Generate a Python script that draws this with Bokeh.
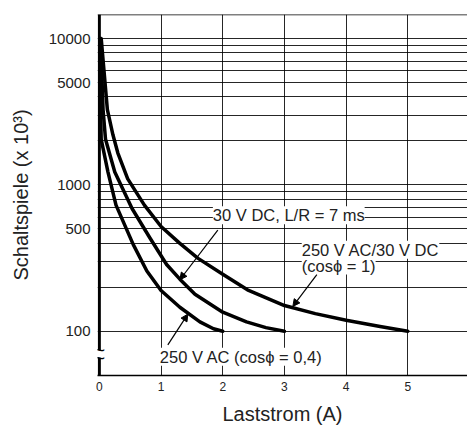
from bokeh.plotting import figure
from bokeh.models import (Range1d, FixedTicker, Label, Arrow, NormalHead, Span,
                          CustomJSTickFormatter)
from bokeh.core.properties import value
from bokeh.embed import file_html
from bokeh.resources import INLINE

# --- data ---
# 250 V AC (cos phi = 0,4)
x_ac04 = [0.01, 0.02, 0.03, 0.14, 0.27, 0.55, 0.77, 1.0, 1.305, 1.63, 1.85, 2.0]
y_ac04 = [10000, 3300, 2050, 1224, 728, 391, 258, 190, 146, 116, 104, 100]
# 30 V DC, L/R = 7 ms
x_dc7 = [0.02, 0.06, 0.1, 0.25, 0.53, 0.82, 1.09, 1.305, 1.55, 2.0, 2.385, 2.7, 3.0]
y_dc7 = [10000, 3270, 2050, 1224, 690, 434, 286, 227, 179, 135, 116, 106, 100]
# 250 V AC / 30 V DC (cos phi = 1)
x_ac1 = [0.03, 0.13, 0.22, 0.30, 0.46, 0.73, 1.0, 1.3, 1.6, 2.0, 2.4, 3.0, 3.5, 4.0, 4.55, 5.0]
y_ac1 = [10000, 3270, 2200, 1650, 1100, 728, 520, 400, 315, 245, 192, 150, 132, 119, 108, 100]

x_ticks = [0, 1, 2, 3, 4, 5]
x_grid = [1, 2, 3, 4, 5]
y_ticks = [100, 500, 1000, 5000, 10000]
y_grid = [100, 200, 300, 400, 500, 600, 700, 800, 900,
          1000, 2000, 3000, 4000, 5000, 6000, 7000, 8000, 9000, 10000]

X0, X1 = -0.03, 5.967
Y0, Y1 = 49.9, 14590
BREAK_LO, BREAK_HI = 66, 74.6

FONT = "Liberation Sans"

p = figure(width=467, height=427, x_range=Range1d(X0, X1), y_range=Range1d(Y0, Y1),
           y_axis_type="log", output_backend="svg", toolbar_location=None,
           min_border_left=97, min_border_right=0, min_border_top=14, min_border_bottom=48)
p.outline_line_color = None
p.background_fill_color = "white"

# grids
p.xgrid.ticker = FixedTicker(ticks=x_grid)
p.ygrid.ticker = FixedTicker(ticks=y_grid)
for g in (p.xgrid, p.ygrid):
    g.grid_line_color = "black"
    g.grid_line_width = 1
    g.grid_line_alpha = 0.85

# axes
p.xaxis.ticker = FixedTicker(ticks=x_ticks)
p.yaxis.ticker = FixedTicker(ticks=y_ticks)
p.yaxis.formatter = CustomJSTickFormatter(code="return tick.toFixed(0);")
for ax in (p.xaxis, p.yaxis):
    ax.major_tick_in = 0
    ax.major_tick_out = 0
    ax.minor_tick_in = 0
    ax.minor_tick_out = 0
    ax.major_label_text_font = FONT
    ax.axis_label_text_font = FONT
    ax.axis_label_text_font_style = "normal"
    ax.axis_label_text_font_size = "20px"
    ax.axis_label_text_color = "#222222"
    ax.major_label_text_color = "#222222"
p.yaxis.axis_line_color = None
p.xaxis.axis_line_color = "black"
p.xaxis.axis_line_width = 1.5
p.yaxis.major_label_text_font_size = "15px"
p.xaxis.major_label_text_font_size = "12px"
p.yaxis.major_label_standoff = 7
p.xaxis.major_label_standoff = 6
p.yaxis.axis_label = "Schaltspiele (x 10³)"
p.xaxis.axis_label = "Laststrom (A)"
p.yaxis.axis_label_standoff = 14
p.xaxis.axis_label_standoff = 9

# top frame line
p.add_layout(Span(location=Y1, dimension="width", line_color="black", line_width=1.5))

# left axis line with break
p.segment(x0=[0, 0], y0=[Y0, BREAK_HI], x1=[0, 0], y1=[BREAK_LO, Y1],
          line_color="black", line_width=3)
p.text(x=[0, 0], y=[BREAK_LO, BREAK_HI], text=["~", "~"], text_align="center",
       text_baseline="middle", text_font_size="20px", text_font=value(FONT),
       text_color="black")

# curves
for xs, ys in ((x_ac04, y_ac04), (x_dc7, y_dc7), (x_ac1, y_ac1)):
    p.line(xs, ys, line_color="black", line_width=3.5, line_join="round", line_cap="round")

# annotations
labels = [
    (1.84, 620, "30 V DC, L/R = 7 ms"),
    (3.28, 360, "250 V AC/30 V DC"),
    (3.28, 281, "(cosϕ = 1)"),
    (0.98, 67, "250 V AC (cosϕ = 0,4)"),
]
for lx, ly, txt in labels:
    p.add_layout(Label(x=lx, y=ly, text=txt, text_baseline="middle", text_align="left",
                       text_font=FONT, text_font_size="16.5px", text_color="#222222",
                       background_fill_color="white", background_fill_alpha=1.0))

arrows = [
    (1.92, 491, 1.305, 225),
    (3.525, 244, 3.136, 148),
    (1.11, 80.7, 1.434, 131),
]
for xs_, ys_, xe, ye in arrows:
    p.add_layout(Arrow(end=NormalHead(size=7, fill_color="black", line_color="black"),
                       x_start=xs_, y_start=ys_, x_end=xe, y_end=ye,
                       line_color="black", line_width=1.2))

open("out.html", "w").write(file_html(p, INLINE))
